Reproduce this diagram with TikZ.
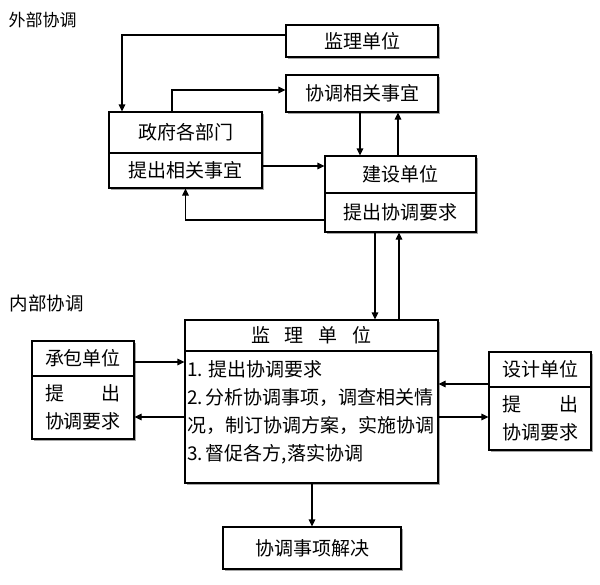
\documentclass[tikz,border=0pt]{standalone}
\usepackage{fontspec}
\setmainfont{Noto Sans CJK SC}
\usetikzlibrary{arrows.meta,shadows}

\begin{document}
\begin{tikzpicture}[x=1pt,y=-1pt,
  every node/.style={font=\fontsize{19}{28}\selectfont},
  box/.style={draw, line width=1.1pt, fill=white, inner sep=0pt, align=center,
    drop shadow={shadow xshift=1.8pt, shadow yshift=-1.8pt, fill=black!35, opacity=1}},
  arr/.style={line width=1.1pt, -{Triangle[length=7pt,width=6.5pt]}}]
\useasboundingbox (0,0) rectangle (600,584);

\node[anchor=west, font=\fontsize{17}{20}\selectfont] (wb) at (5,20) {外部协调};
\node[anchor=west, font=\fontsize{18.5}{20}\selectfont] (nb) at (6,303) {内部协调};

\node[box, minimum width=152pt, minimum height=32pt] (jl) at (362,41) {监理单位};
\node[box, minimum width=152pt, minimum height=37pt] (xt) at (362,93.5) {协调相关事宜};
\node[box, minimum width=153pt, minimum height=41pt] (zf) at (185.5,132.5) {政府各部门};
\node[box, minimum width=153pt, minimum height=35pt] (zfb) at (185.5,170.5) {提出相关事宜};
\node[box, minimum width=151pt, minimum height=37pt] (js) at (400.5,174.5) {建设单位};
\node[box, minimum width=151pt, minimum height=39pt] (jsb) at (400.5,212.5) {提出协调要求};

\node[box, minimum width=253pt, minimum height=31pt] (jd) at (311.5,335.5) {监\hspace{15pt}理\hspace{15pt}单\hspace{15pt}位};
\node[box, minimum width=253pt, minimum height=132pt] (jdb) at (311.5,417) {\parbox[c][112pt][t]{249pt}{\mbox{1. 提出协调要求}\\\mbox{2.\,分析协调事项，调查相关情}\\\mbox{况，制订协调方案，实施协调}\\\mbox{3.\,督促各方,落实协调}}};
\node[box, minimum width=102pt, minimum height=35pt] (cb) at (83,358.5) {承包单位};
\node[box, minimum width=102pt, minimum height=63pt] (cbb) at (83,407.5) {\makebox[76pt]{提\hfill 出}\\协调要求};
\node[box, minimum width=102pt, minimum height=35pt] (sj) at (540,369.5) {设计单位};
\node[box, minimum width=102pt, minimum height=63pt] (sjb) at (540,418.5) {\makebox[76pt]{提\hfill 出}\\协调要求};
\node[box, minimum width=178pt, minimum height=42pt] (jj) at (312,548) {协调事项解决};

\draw[arr] (jl.west |- 0,35) -| (zf.north -| 122,0);
\draw[arr] (zf.north -| 172,0) |- (xt.west |- 0,90);
\draw[arr] (xt.south -| 360,0) -- (js.north -| 360,0);
\draw[arr] (js.north -| 398,0) -- (xt.south -| 398,0);
\draw[arr] (zfb.east |- 0,166) -- (js.west |- 0,166);
\draw[arr] (jsb.west |- 0,220) -| (zfb.south);
\draw[arr] (jsb.south -| 375,0) -- (jd.north -| 375,0);
\draw[arr] (jd.north -| 399,0) -- (jsb.south -| 399,0);
\draw[arr] (cb.east |- 0,362) -- (jdb.west |- 0,362);
\draw[arr] (jdb.west |- 0,417) -- (cbb.east |- 0,417);
\draw[arr] (sj.west |- 0,384) -- (jdb.east |- 0,384);
\draw[arr] (jdb.east |- 0,417) -- (sjb.west |- 0,417);
\draw[arr] (jj.north |- jdb.south) -- (jj.north);
\end{tikzpicture}
\end{document}
